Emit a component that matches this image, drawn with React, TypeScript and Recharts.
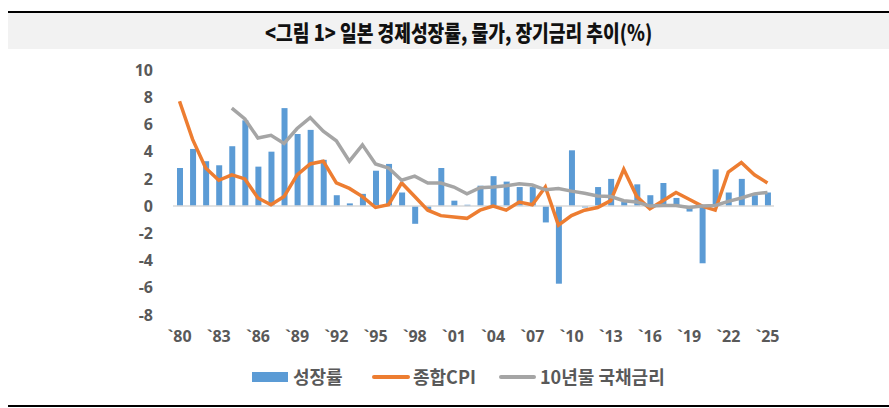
import { ComposedChart, Bar, Line, XAxis, YAxis, ReferenceLine } from "recharts";

const years = [
  1980, 1981, 1982, 1983, 1984, 1985, 1986, 1987, 1988, 1989,
  1990, 1991, 1992, 1993, 1994, 1995, 1996, 1997, 1998, 1999,
  2000, 2001, 2002, 2003, 2004, 2005, 2006, 2007, 2008, 2009,
  2010, 2011, 2012, 2013, 2014, 2015, 2016, 2017, 2018, 2019,
  2020, 2021, 2022, 2023, 2024, 2025,
];

// 성장률 (%)
const growth = [
  2.8, 4.2, 3.3, 3.0, 4.4, 6.3, 2.9, 4.0, 7.2, 5.3,
  5.6, 3.4, 0.8, 0.2, 0.9, 2.6, 3.1, 1.0, -1.3, -0.3,
  2.8, 0.4, 0.1, 1.5, 2.2, 1.8, 1.4, 1.4, -1.2, -5.7,
  4.1, -0.1, 1.4, 2.0, 0.3, 1.6, 0.8, 1.7, 0.6, -0.4,
  -4.2, 2.7, 1.0, 2.0, 0.8, 1.0,
];

// 종합CPI (%)
const cpi = [
  7.7, 4.9, 2.8, 1.9, 2.3, 2.0, 0.6, 0.1, 0.7, 2.3,
  3.1, 3.3, 1.7, 1.3, 0.7, -0.1, 0.1, 1.7, 0.7, -0.3,
  -0.7, -0.8, -0.9, -0.3, 0.0, -0.3, 0.3, 0.1, 1.4, -1.4,
  -0.7, -0.3, -0.1, 0.4, 2.7, 0.7, -0.2, 0.4, 1.0, 0.5,
  0.0, -0.3, 2.5, 3.2, 2.3, 1.7,
];

// 10년물 국채금리 (%)
const jgb10y = [
  null, null, null, null, 7.2, 6.4, 5.0, 5.2, 4.6, 5.7,
  6.5, 5.5, 4.8, 3.3, 4.5, 3.1, 2.8, 1.9, 2.2, 1.7,
  1.7, 1.4, 0.9, 1.35, 1.4, 1.5, 1.65, 1.55, 1.2, 1.3,
  1.1, 0.95, 0.75, 0.7, 0.4, 0.3, 0.0, 0.05, 0.05, -0.1,
  0.0, 0.05, 0.35, 0.6, 0.9, 1.0,
];

const yTicks = [-8, -6, -4, -2, 0, 2, 4, 6, 8, 10];

const data = years.map((y, i) => ({
  year: y,
  growth: growth[i],
  cpi: cpi[i],
  jgb: jgb10y[i],
}));

const axisFont = {
  fontFamily: "'Open Sans', 'Noto Sans', sans-serif",
  fontWeight: 700,
  fontSize: 16,
  fill: "#595959",
};

const App = () => {
  return (
    <div
      style={{
        position: "absolute",
        left: 0,
        top: 0,
        width: 889,
        height: 408,
        background: "#fff",
        overflow: "hidden",
      }}
    >
      <div
        style={{
          position: "absolute",
          left: 8,
          top: 11,
          width: 881,
          height: 2,
          background: "#000",
        }}
      ></div>
      <div
        style={{
          position: "absolute",
          left: 8,
          top: 13,
          width: 881,
          height: 36,
          background: "#f2f2f2",
          display: "flex",
          alignItems: "center",
          justifyContent: "center",
        }}
      >
        <span
          style={{
            display: "inline-block",
            fontFamily: "'Noto Sans CJK KR', sans-serif",
            fontWeight: 900,
            fontSize: 22,
            color: "#111",
            transform: "scaleX(0.825)",
            whiteSpace: "nowrap",
            marginLeft: 20,
          }}
        >
          {"<그림 1> 일본 경제성장률, 물가, 장기금리 추이(%)"}
        </span>
      </div>

      <div style={{ position: "absolute", left: 0, top: 0 }}>
        <ComposedChart
          width={889}
          height={408}
          data={data}
          margin={{ top: 70, right: 115, bottom: 63, left: 113 }}
        >
          <XAxis
            dataKey="year"
            axisLine={false}
            tickLine={false}
            interval={2}
            tickMargin={10}
            tick={axisFont}
            tickFormatter={(v) => "`" + String(v).slice(2)}
          />
          <YAxis
            width={60}
            domain={[-8, 10]}
            ticks={yTicks}
            axisLine={false}
            tickLine={false}
            tickMargin={14}
            tick={axisFont}
          />
          <ReferenceLine y={0} stroke="#d9d9d9" strokeWidth={1.5} />
          <Bar
            dataKey="growth"
            fill="#5b9bd5"
            barSize={6}
            isAnimationActive={false}
          />
          <Line
            dataKey="cpi"
            type="linear"
            stroke="#ed7d31"
            strokeWidth={3.5}
            dot={false}
            isAnimationActive={false}
          />
          <Line
            dataKey="jgb"
            type="linear"
            stroke="#a5a5a5"
            strokeWidth={3.5}
            dot={false}
            connectNulls={false}
            isAnimationActive={false}
          />
        </ComposedChart>
      </div>

      <div
        style={{
          position: "absolute",
          left: 0,
          top: 366,
          width: 889,
          height: 22,
          fontFamily: "'Noto Sans CJK KR', sans-serif",
          fontWeight: 700,
          fontSize: 18,
          color: "#595959",
        }}
      >
        <span style={{ position: "absolute", left: 252, top: 6, width: 36, height: 10, background: "#5b9bd5" }}></span>
        <span style={{ position: "absolute", left: 293, top: -1, lineHeight: "22px" }}>성장률</span>
        <span style={{ position: "absolute", left: 372, top: 9, width: 38, height: 4, borderRadius: 2, background: "#ed7d31" }}></span>
        <span style={{ position: "absolute", left: 413, top: -1, lineHeight: "22px" }}>종합CPI</span>
        <span style={{ position: "absolute", left: 499, top: 9, width: 37, height: 4, borderRadius: 2, background: "#a5a5a5" }}></span>
        <span style={{ position: "absolute", left: 540, top: -1, lineHeight: "22px" }}>10년물 국채금리</span>
      </div>

      <div
        style={{
          position: "absolute",
          left: 8,
          top: 405,
          width: 881,
          height: 2,
          background: "#000",
        }}
      ></div>
    </div>
  );
};

export default App;
